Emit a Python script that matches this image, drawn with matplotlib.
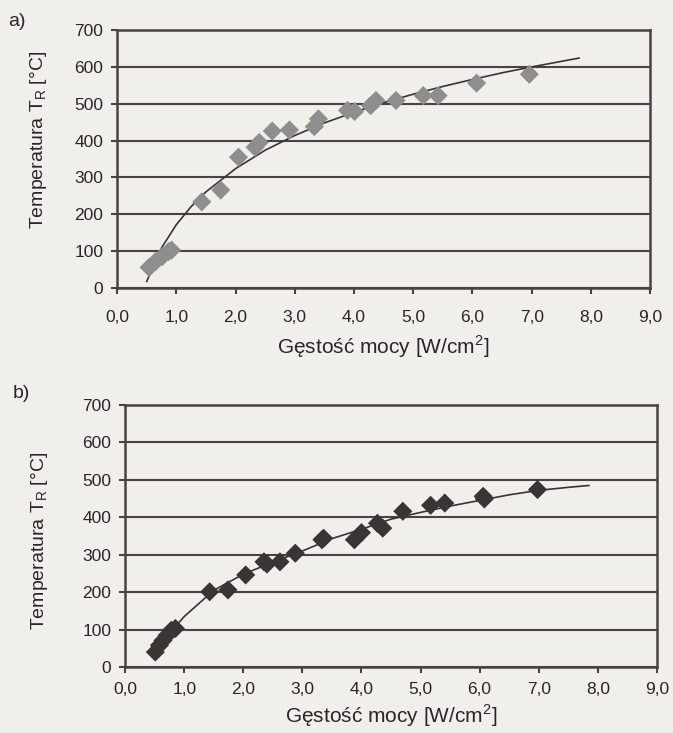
import matplotlib.pyplot as plt

plt.rcParams['font.family'] = ['Liberation Sans', 'DejaVu Sans']
plt.rcParams['mathtext.fontset'] = 'custom'
plt.rcParams['mathtext.rm'] = 'Liberation Sans'

# panel a) - punkty pomiarowe
A_X = [0.54, 0.65, 0.76, 0.87, 0.92, 1.43, 1.75, 2.05, 2.33, 2.40, 2.62, 2.91,
       3.33, 3.40, 3.89, 4.01, 4.28, 4.37, 4.71, 5.17, 5.42, 6.07, 6.96]
A_Y = [56, 72, 85, 99, 103, 234, 266, 355, 382, 395, 426, 429,
       438, 459, 482, 479, 495, 509, 509, 522, 522, 556, 580]
# panel a) - linia trendu
A_FIT_X = [0.50, 0.75, 1.0, 1.25, 1.5, 2.0, 2.5, 3.0, 3.5, 4.0, 4.5, 5.0, 5.5, 6.0, 6.5, 7.0, 7.5, 7.8]
A_FIT_Y = [18, 109, 172, 221, 261, 324, 374, 414, 448, 477, 503, 526, 547, 566, 584, 600, 615, 624]

# panel b) - punkty pomiarowe
B_X = [0.51, 0.58, 0.64, 0.71, 0.78, 0.85, 1.43, 1.74, 2.04, 2.35, 2.40, 2.62, 2.88,
       3.33, 3.36, 3.88, 4.00, 4.27, 4.36, 4.70, 5.17, 5.41, 6.06, 6.08, 6.98]
B_Y = [40, 58, 71, 85, 98, 103, 201, 206, 246, 281, 275, 281, 304,
       340, 344, 340, 359, 384, 371, 416, 432, 438, 456, 449, 474]
# panel b) - linia trendu
B_FIT_X = [0.48, 0.75, 1.0, 1.5, 2.0, 2.5, 3.0, 3.5, 4.0, 4.5, 5.0, 5.5, 6.0, 6.5, 7.0, 7.5, 7.85]
B_FIT_Y = [28, 90, 135, 205, 248, 280, 310, 343, 368, 395, 413, 430, 445, 460, 472, 480, 485]

X_TICKS = [0, 1, 2, 3, 4, 5, 6, 7, 8, 9]
X_LABELS = ['0,0', '1,0', '2,0', '3,0', '4,0', '5,0', '6,0', '7,0', '8,0', '9,0']
Y_TICKS = [0, 100, 200, 300, 400, 500, 600, 700]

PAPER = '#f0efec'
INK = '#4a4242'
TEXT = '#2a2626'


def draw_panel(ax, xs, ys, fit_x, fit_y, marker_color, xpad, xlabelpad, ylab_pos):
    ax.set_facecolor(PAPER)
    ax.set_xlim(0, 9)
    ax.set_ylim(0, 700)
    ax.set_xticks(X_TICKS)
    ax.set_xticklabels(X_LABELS)
    ax.set_yticks(Y_TICKS)
    ax.yaxis.grid(True, color=INK, linewidth=1.5)
    ax.set_axisbelow(True)
    for s in ax.spines.values():
        s.set_color(INK)
        s.set_linewidth(1.8)
    ax.tick_params(direction='out', length=4, width=1.5, color=INK,
                   labelsize=12.5, labelcolor=TEXT)
    ax.tick_params(axis='x', pad=xpad)
    ax.tick_params(axis='y', pad=6)
    ax.plot(fit_x, fit_y, color='#3a3333', linewidth=1.2, zorder=3)
    ax.scatter(xs, ys, marker='D', s=95, color=marker_color, edgecolors='none', zorder=4)
    ax.set_ylabel('Temperatura T$_\\mathregular{R}$ [°C]', fontsize=14, color=TEXT)
    ax.yaxis.set_label_coords(*ylab_pos)
    ax.set_xlabel('Gęstość mocy [W/cm$^\\mathregular{2}$]', fontsize=15, color=TEXT,
                  labelpad=xlabelpad)


fig = plt.figure(figsize=(6.73, 7.33), dpi=100, facecolor=PAPER)

ax_a = fig.add_axes([0.174, 0.607, 0.792, 0.352])
draw_panel(ax_a, A_X, A_Y, A_FIT_X, A_FIT_Y, '#8e8e8e', 12, 6, (-0.128, 0.574))

ax_b = fig.add_axes([0.186, 0.090, 0.790, 0.3575])
draw_panel(ax_b, B_X, B_Y, B_FIT_X, B_FIT_Y, '#3a3434', 7, 4, (-0.142, 0.48))

fig.text(0.012, 0.970, 'a)', fontsize=14, color=TEXT, va='center')
fig.text(0.019, 0.4625, 'b)', fontsize=14, color=TEXT, va='center')

fig.savefig('out.png', dpi=100, facecolor=PAPER)
